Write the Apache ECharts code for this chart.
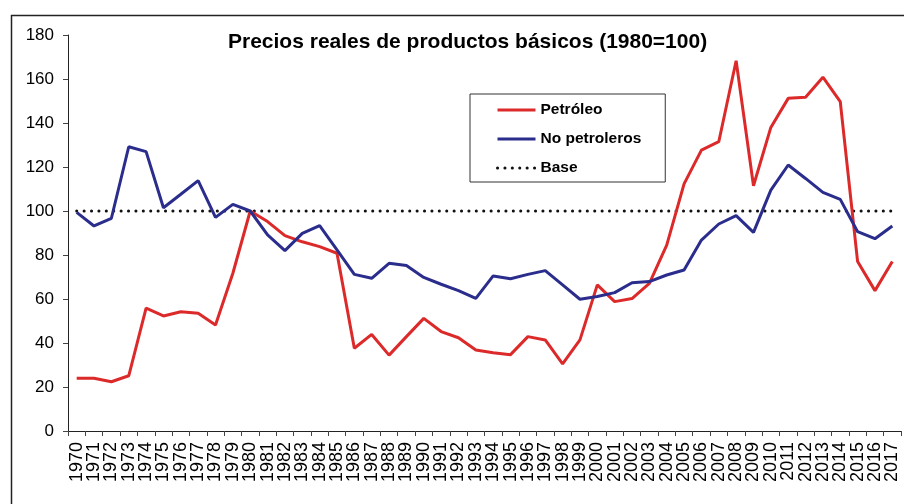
<!DOCTYPE html>
<html>
<head>
<meta charset="utf-8">
<script src="https://cdn.jsdelivr.net/npm/echarts@6/dist/echarts.min.js"></script>
<style>html,body{margin:0;padding:0;background:#fff}#c{width:904px;height:504px}</style>
</head>
<body>
<div id="c"></div>
<script>
const years = ['1970','1971','1972','1973','1974','1975','1976','1977','1978','1979','1980','1981','1982','1983','1984','1985','1986','1987','1988','1989','1990','1991','1992','1993','1994','1995','1996','1997','1998','1999','2000','2001','2002','2003','2004','2005','2006','2007','2008','2009','2010','2011','2012','2013','2014','2015','2016','2017'];
const petroleo = [24.0,24.0,22.4,25.1,55.8,52.3,54.2,53.5,48.2,71.7,100,95.2,88.8,86.0,83.8,80.8,37.6,43.9,34.5,42.9,51.2,45.2,42.4,36.8,35.6,34.7,42.9,41.4,30.5,41.4,66.4,58.8,60.2,67.1,84.5,112.3,127.7,131.5,168.3,111.5,138.0,151.2,151.7,160.8,149.7,77.0,63.8,77.0];
const noPetroleros = [99.4,93.2,96.7,129.2,127.0,101.5,107.6,113.8,97.1,103.0,100,89.1,82.0,89.8,93.3,82.3,71.2,69.4,76.2,75.2,69.8,66.7,63.8,60.3,70.5,69.2,71.2,72.9,66.4,59.9,61.1,62.9,67.4,67.9,70.9,73.2,86.8,94.1,97.9,90.3,109.5,120.9,114.8,108.5,105.3,90.6,87.4,93.2];
const base = [100,100,100,100,100,100,100,100,100,100,100,100,100,100,100,100,100,100,100,100,100,100,100,100,100,100,100,100,100,100,100,100,100,100,100,100,100,100,100,100,100,100,100,100,100,100,100,100];
const yTicks = [0,20,40,60,80,100,120,140,160,180];

const FONT = "'Liberation Sans', Arial, sans-serif";
const chart = echarts.init(document.getElementById('c'), null, {renderer:'canvas'});
chart.setOption({
  animation: false,
  backgroundColor: '#fff',
  graphic: [{
    type: 'rect', left: 9, top: 13, z: -1,
    shape: {x: 0, y: 0, width: 1000, height: 1000},
    style: {fill: 'none', stroke: '#222', lineWidth: 1.5}
  }],
  title: {
    text: 'Precios reales de productos básicos (1980=100)',
    left: 228, top: 32, padding: 0,
    textStyle: {fontFamily: FONT, fontSize: 21, fontWeight: 'bold', color: '#000'}
  },
  legend: {
    orient: 'vertical', left: 470, top: 94,
    padding: [8, 24, 6, 26],
    itemWidth: 38, itemHeight: 14, itemGap: 13,
    backgroundColor: '#fff', borderColor: '#333', borderWidth: 1,
    itemStyle: {opacity: 0},
    lineStyle: {width: 3},
    textStyle: {fontFamily: FONT, fontSize: 15.5, fontWeight: 'bold', color: '#000'},
    data: ['Petróleo', 'No petroleros', 'Base']
  },
  grid: {left: 68, right: 3, top: 35, bottom: 73, containLabel: false},
  xAxis: {
    type: 'category', data: years, boundaryGap: true,
    axisLine: {lineStyle: {color: '#222', width: 1}},
    axisTick: {show: true, interval: 0, length: 5, lineStyle: {color: '#444'}},
    axisLabel: {interval: 0, rotate: 90, margin: 11, fontFamily: FONT, fontSize: 18, color: '#000'},
    splitLine: {show: false}
  },
  yAxis: {
    type: 'value', min: yTicks[0], max: yTicks[yTicks.length-1], interval: 20,
    axisLine: {show: true, lineStyle: {color: '#222', width: 1}},
    axisTick: {show: true, length: 5, lineStyle: {color: '#444'}},
    axisLabel: {margin: 14, fontFamily: FONT, fontSize: 17, color: '#000'},
    splitLine: {show: false}
  },
  series: [
    {name: 'Petróleo', type: 'line', data: petroleo, symbol: 'none',
     lineStyle: {color: '#dc2a2a', width: 3}, itemStyle: {color: '#dc2a2a'}, z: 3},
    {name: 'No petroleros', type: 'line', data: noPetroleros, symbol: 'none',
     lineStyle: {color: '#2b2d8c', width: 3}, itemStyle: {color: '#2b2d8c'}, z: 4},
    {name: 'Base', type: 'line', data: base, symbol: 'none',
     lineStyle: {color: '#111', width: 3, type: [0.1, 7.3], cap: 'round'}, itemStyle: {color: '#111'}, z: 2}
  ]
});
</script>
</body>
</html>
